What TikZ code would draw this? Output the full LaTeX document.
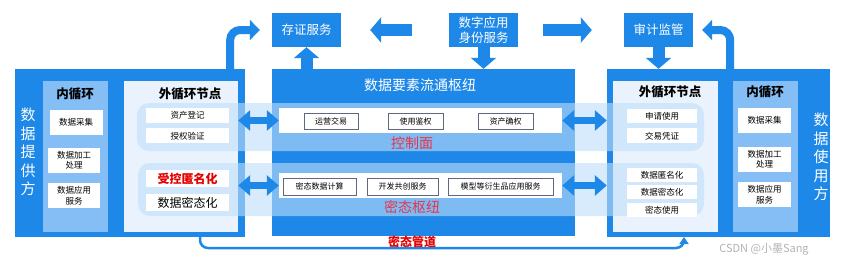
\documentclass[tikz,border=0pt]{standalone}
\usepackage{fontspec}
\setmainfont{Noto Sans CJK SC}
\usepackage{tikz}
\usetikzlibrary{positioning, arrows.meta}
\definecolor{hubblue}{RGB}{30,136,232}
\definecolor{loopblue}{RGB}{132,190,245}
\definecolor{nodepale}{RGB}{234,243,253}
\definecolor{bandblue}{RGB}{190,222,250}
\definecolor{keyred}{RGB}{232,52,72}
\definecolor{boxgray}{RGB}{95,105,125}

\begin{document}
\begin{tikzpicture}[
    x=1pt, y=-1pt,
    font=\fontsize{9}{11}\selectfont,
    panel/.style={fill=hubblue, inner sep=0pt},
    looppanel/.style={fill=loopblue, inner sep=0pt},
    nodepanel/.style={fill=nodepale, inner sep=0pt},
    band/.style={fill=bandblue, fill opacity=0.6, rounded corners=12pt, inner sep=0pt},
    strip/.style={fill=white, inner sep=0pt, minimum width=283pt, minimum height=25pt},
    item/.style={draw=boxgray, fill=white, line width=1pt, inner sep=0pt,
        minimum height=16pt, font=\fontsize{8}{10}\selectfont},
    plain/.style={fill=white, inner sep=0pt, align=center, font=\fontsize{8.5}{10.5}\selectfont},
    loopbox/.style={plain, minimum width=53pt, minimum height=25pt},
    topbox/.style={fill=hubblue, text=white, align=center, inner sep=0pt,
        minimum width=69pt, minimum height=34pt, font=\fontsize{12.5}{14.5}\selectfont},
    title/.style={font=\fontsize{12.5}{14}\selectfont\bfseries},
    sidetext/.style={text=white, align=center, font=\fontsize{15}{18.5}\selectfont},
    redtext/.style={text=keyred, font=\fontsize{14}{16}\selectfont},
    blockarrow/.style={-{Triangle[length=11pt, width=25pt]}, line width=12pt, draw=hubblue},
    dblarrow/.style={{Triangle[length=12pt, width=20pt]}-{Triangle[length=12pt, width=20pt]},
        line width=7pt, draw=hubblue},
    bendarrow/.style={-{Triangle[length=10pt, width=20pt]}, line width=8pt, draw=hubblue,
        rounded corners=10pt},
    pipe/.style={-{Triangle[length=7pt, width=9pt]}, line width=2.5pt, draw=hubblue,
        rounded corners=8pt},
    node distance=5pt
  ]
  \useasboundingbox (0,0) rectangle (843,268);

  % left side: data provider
  \node[panel, minimum width=230pt, minimum height=168pt] (lpanel) at (130,153) {};
  \node[looppanel, minimum width=65pt, minimum height=151pt] (lin) at (75.5,156.5) {};
  \node[nodepanel, minimum width=114pt, minimum height=151pt] (lout) at (181,156.5) {};
  \node[sidetext] (provider) at (28,152) {数\\据\\提\\供\\方};

  % hub
  \node[panel, minimum width=303pt, minimum height=167pt] (hub) at (423.5,152.5) {};
  \node[text=white, font=\fontsize{14}{16}\selectfont] (hubtitle) at (420,85) {数据要素流通枢纽};

  % right side: data user
  \node[panel, minimum width=223pt, minimum height=168pt] (rpanel) at (718.5,153) {};
  \node[nodepanel, minimum width=105pt, minimum height=151pt] (rout) at (665.5,156.5) {};
  \node[looppanel, minimum width=65pt, minimum height=151pt] (rin) at (765.5,156.5) {};
  \node[sidetext] (user) at (821,157) {数\\据\\使\\用\\方};

  \node[title] at (75,94) {内循环};
  \node[title] at (190,94) {外循环节点};
  \node[title] at (670,92) {外循环节点};
  \node[title] at (765,92) {内循环};

  % control plane and cipher bands
  \node[band, minimum width=567pt, minimum height=48pt] (ctrlband) at (420.5,127) {};
  \node[band, minimum width=566pt, minimum height=53pt] (cipherband) at (421,189.5) {};

  \node[strip] (ctrlstrip) at (420.5,120.5) {};
  \node[strip] (cipherstrip) at (420.5,185.5) {};

  \node[item, minimum width=54pt] (ops) at (331,121) {运营交易};
  \node[item, minimum width=55pt] (auth) at (415.5,121) {使用鉴权};
  \node[item, minimum width=55pt] (confirm) at (505.5,121) {资产确权};
  \node[item, minimum width=73pt, minimum height=17pt] (compute) at (319.5,186.5) {密态数据计算};
  \node[item, minimum width=71pt, minimum height=17pt] (cocreate) at (402.5,186.5) {开发共创服务};
  \node[item, minimum width=105pt, minimum height=17pt] (model) at (500.5,186.5) {模型等衍生品应用服务};

  \node[redtext] (ctrllabel) at (412,143) {控制面};
  \node[redtext] (cipherlabel) at (412,207) {密态枢纽};

  % left boxes
  \node[loopbox] (lcollect) at (76,122.5) {数据采集};
  \node[loopbox, minimum width=52pt] (lprocess) at (74,160.5) {数据加工\\处理};
  \node[loopbox, minimum width=52pt, below=10pt of lprocess] (lapply) {数据应用\\服务};

  \node[plain, minimum width=83pt, minimum height=15pt] (register) at (187.5,115.5) {资产登记};
  \node[plain, minimum width=83pt, minimum height=15pt, below=of register] (verify) {授权验证};
  \node[plain, minimum width=83pt, minimum height=17pt, text=red!90!black,
        font=\fontsize{12}{14}\selectfont\bfseries] (anon) at (187.5,178.5) {受控匿名化};
  \node[plain, minimum width=83pt, minimum height=17pt, below=7pt of anon,
        font=\fontsize{12}{14}\selectfont] (lcipher) {数据密态化};

  % right boxes
  \node[plain, minimum width=70pt, minimum height=14pt] (apply) at (662,116) {申请使用};
  \node[plain, minimum width=70pt, minimum height=15pt, below=of apply] (voucher) {交易凭证};
  \node[plain, minimum width=70pt, minimum height=14pt] (ranon) at (662,175) {数据匿名化};
  \node[plain, minimum width=70pt, minimum height=14pt, below=3pt of ranon] (rcipher) {数据密态化};
  \node[plain, minimum width=70pt, minimum height=14pt, below=3pt of rcipher] (cipheruse) {密态使用};

  \node[loopbox] (rcollect) at (764.5,120.5) {数据采集};
  \node[loopbox] (rprocess) at (764.5,159.5) {数据加工\\处理};
  \node[loopbox, below=10pt of rprocess] (rapply) {数据应用\\服务};

  % top services
  \node[topbox] (evidence) at (306.5,30) {存证服务};
  \node[topbox] (identity) at (483.5,30) {数字应用\\身份服务};
  \node[topbox] (audit) at (658.5,30) {审计监管};

  \draw[blockarrow] (hub.north -| evidence) -- (evidence.south);
  \draw[blockarrow] (identity.south) -- (hub.north -| identity);
  \draw[blockarrow] (audit.south) -- (rpanel.north -| audit);
  \draw[blockarrow, shorten <=37pt, shorten >=29pt] (identity.west) -- (evidence.east);
  \draw[blockarrow, shorten <=25pt, shorten >=32pt] (identity.east) -- (audit.west);

  \draw[bendarrow, shorten >=12pt] ([xshift=-15pt]lpanel.north east) |- (evidence.west);
  \draw[bendarrow, shorten >=9pt] ([xshift=-100pt]rpanel.north east) |- (audit.east);

  % exchange between sides and hub
  \draw[dblarrow] (lout.east |- ctrlstrip) -- (ctrlstrip.west);
  \draw[dblarrow] (lout.east |- cipherstrip) -- (cipherstrip.west);
  \draw[dblarrow] (ctrlstrip.east) -- (rpanel.west |- ctrlstrip);
  \draw[dblarrow] (cipherstrip.east) -- (rpanel.west |- cipherstrip);

  % cipher pipe below
  \coordinate (pipestart) at (200,237);
  \coordinate (pipeend) at (684,237);
  \draw[pipe] (pipestart) -- ++(0,11) -| (pipeend);
  \node[text=red!90!black, font=\fontsize{12}{14}\selectfont\bfseries] (pipelabel) at (412,242) {密态管道};

  \node[text=black!30, font=\fontsize{11}{13}\selectfont] (mark) at (764,249) {CSDN @小墨Sang};
\end{tikzpicture}
\end{document}
